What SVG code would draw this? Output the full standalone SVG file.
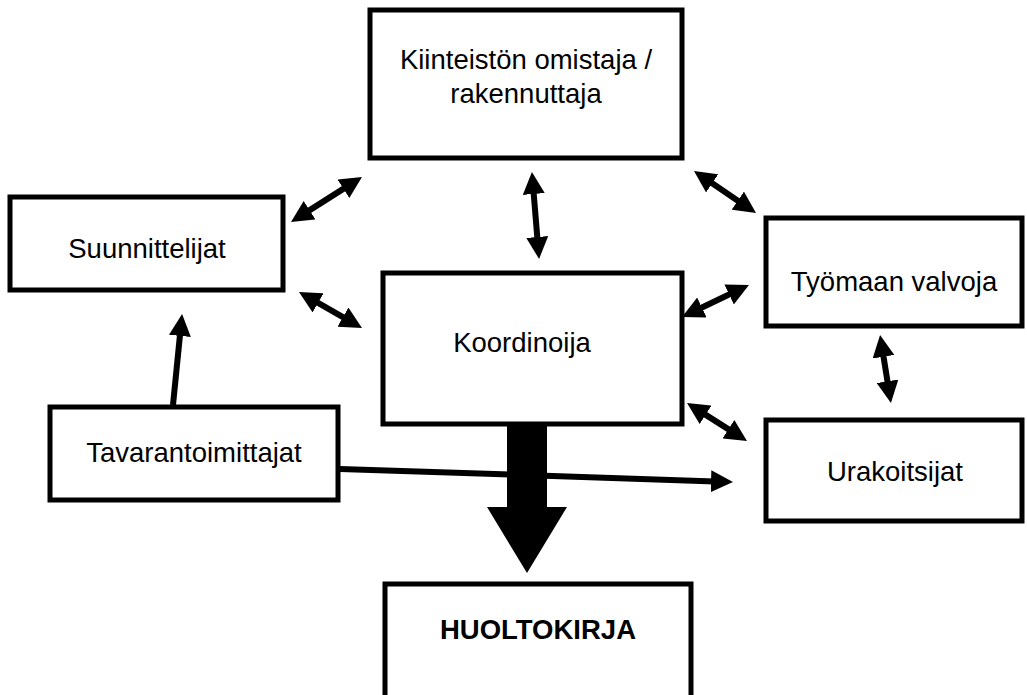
<svg xmlns="http://www.w3.org/2000/svg" width="1027" height="695" viewBox="0 0 1027 695">
<defs>
<style>
.box{fill:#fff;stroke:#000;stroke-width:5}
.t{font-family:"Liberation Sans",Arial,sans-serif;font-size:27.5px;fill:#000;text-anchor:middle}
.b{font-weight:bold}
.c{stroke:#000;stroke-width:6;fill:none}
</style>
<marker id="ah" markerUnits="userSpaceOnUse" markerWidth="22" markerHeight="22" viewBox="0 0 22 22" refX="4" refY="11" orient="auto-start-reverse">
<path d="M0,0 L22,11 L0,22 z" fill="#000"/>
</marker>
</defs>
<rect width="1027" height="695" fill="#fff"/>
<g id="n-omistaja"><rect class="box" x="370" y="10" width="312" height="148"/><text class="t" x="526" y="69">Kiinteistön omistaja /</text><text class="t" x="526" y="103">rakennuttaja</text></g>
<g id="n-suunnittelijat"><rect class="box" x="10" y="197" width="273" height="93"/><text class="t" x="147" y="258">Suunnittelijat</text></g>
<g id="n-valvoja"><rect class="box" x="766" y="218" width="256" height="108"/><text class="t" x="894" y="291">Työmaan valvoja</text></g>
<g id="n-koordinoija"><rect class="box" x="383" y="273" width="299" height="151"/><text class="t" x="522" y="352">Koordinoija</text></g>
<g id="n-tavarantoimittajat"><rect class="box" x="50" y="407" width="288" height="93"/><text class="t" x="194" y="462">Tavarantoimittajat</text></g>
<g id="n-urakoitsijat"><rect class="box" x="766" y="420" width="256" height="101"/><text class="t" x="895" y="481">Urakoitsijat</text></g>
<g id="n-huoltokirja"><rect class="box" x="385" y="584" width="306" height="120"/><text class="t b" x="538" y="639">HUOLTOKIRJA</text></g>
<g id="connectors">
<line class="c" x1="306.2" y1="212.4" x2="346.8" y2="186.6" marker-start="url(#ah)" marker-end="url(#ah)"/>
<line class="c" x1="533.4" y1="190" x2="537.6" y2="241" marker-start="url(#ah)" marker-end="url(#ah)"/>
<line class="c" x1="708.9" y1="181.1" x2="741.1" y2="202.9" marker-start="url(#ah)" marker-end="url(#ah)"/>
<line class="c" x1="314.6" y1="300.9" x2="346.4" y2="319.1" marker-start="url(#ah)" marker-end="url(#ah)"/>
<line class="c" x1="698.3" y1="309.2" x2="732.7" y2="292.8" marker-start="url(#ah)" marker-end="url(#ah)"/>
<line class="c" x1="702.2" y1="412.6" x2="731.8" y2="431.4" marker-start="url(#ah)" marker-end="url(#ah)"/>
<line class="c" x1="882.9" y1="352.8" x2="888.1" y2="385.2" marker-start="url(#ah)" marker-end="url(#ah)"/>
<line class="c" x1="173" y1="405" x2="180.3" y2="331.9" marker-end="url(#ah)"/>
<line class="c" x1="340" y1="469" x2="715" y2="481.4" marker-end="url(#ah)"/>
<path d="M507,424 L547,424 L547,507 L567,507 L527,573 L487,507 L507,507 z" fill="#000"/>
</g>
</svg>
